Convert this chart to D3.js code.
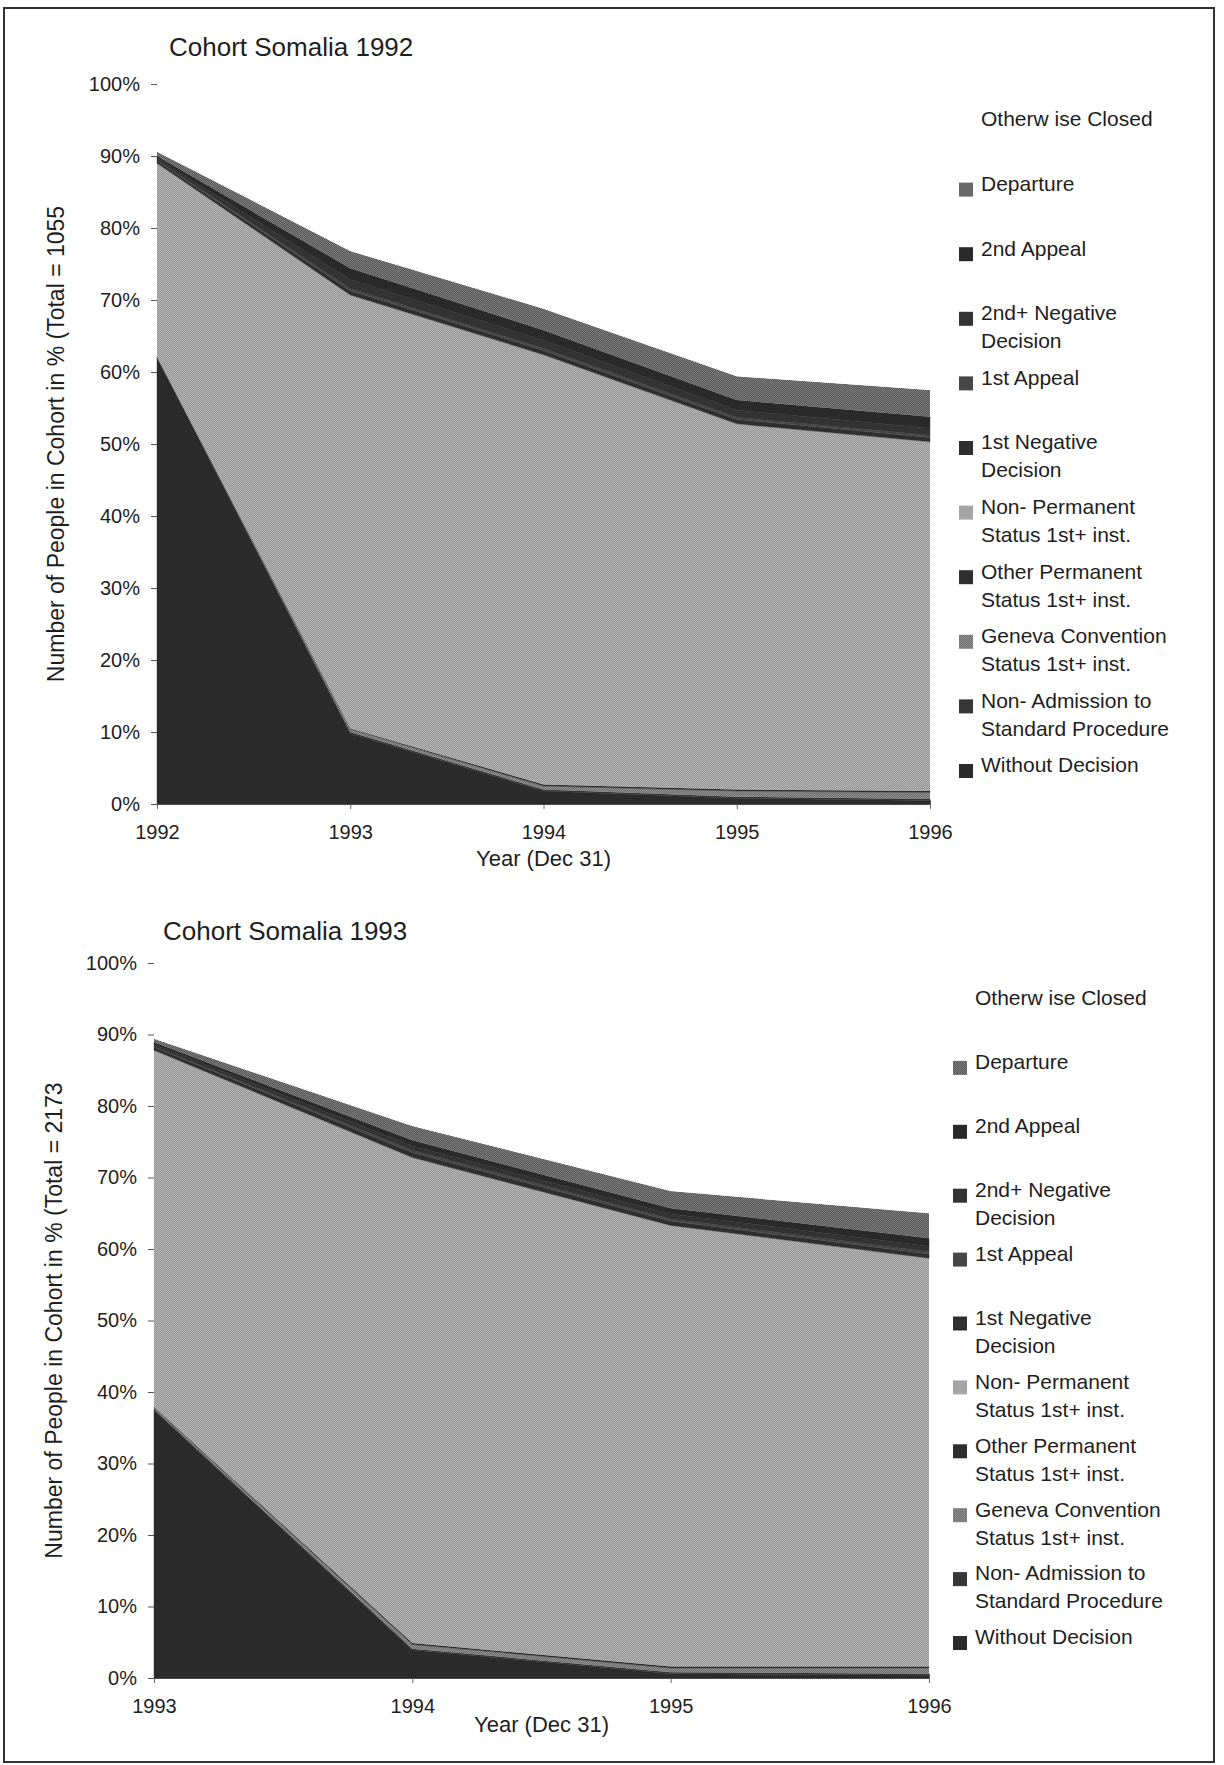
<!DOCTYPE html>
<html>
<head>
<meta charset="utf-8">
<script src="https://cdn.jsdelivr.net/npm/d3@7"></script>
<style>
  body { margin: 0; background: #fff; }
  svg text { font-family: "Liberation Sans", Arial, sans-serif; fill: #1e1e1e; }
</style>
</head>
<body>
<div id="page"></div>
<script>
// -----------------------------------------//
//                  Data
// -----------------------------------------//

// stack layers, bottom first
var layerKeys = [
  "Without Decision",
  "Non- Admission to Standard Procedure",
  "Geneva Convention Status 1st+ inst.",
  "Other Permanent Status 1st+ inst.",
  "Non- Permanent Status 1st+ inst.",
  "1st Negative Decision",
  "1st Appeal",
  "2nd+ Negative Decision",
  "2nd Appeal",
  "Departure",
  "Otherwise Closed"
];

// legend text, top entry first (same layers, reversed)
var legendLines = [
  ["Otherw ise Closed"],
  ["Departure"],
  ["2nd Appeal"],
  ["2nd+ Negative", "Decision"],
  ["1st Appeal"],
  ["1st Negative", "Decision"],
  ["Non- Permanent", "Status 1st+ inst."],
  ["Other Permanent", "Status 1st+ inst."],
  ["Geneva Convention", "Status 1st+ inst."],
  ["Non- Admission to", "Standard Procedure"],
  ["Without Decision"]
];

var yTicks = [0, 10, 20, 30, 40, 50, 60, 70, 80, 90, 100];

// cohort 1992, share in % per layer (rows follow layerKeys)
var years1992 = [1992, 1993, 1994, 1995, 1996];
var shares1992 = [
  [62, 9.8, 1.8, 0.8, 0.5],
  [0, 0.2, 0.2, 0.2, 0.2],
  [0, 0.4, 0.5, 0.8, 0.9],
  [0, 0.1, 0.2, 0.2, 0.2],
  [27, 60.2, 59.7, 50.8, 48.5],
  [0.3, 0.6, 0.6, 0.6, 0.6],
  [0.1, 0.3, 0.3, 0.3, 0.3],
  [0.3, 1.2, 1.1, 1.0, 1.0],
  [0.3, 1.6, 1.4, 1.4, 1.6],
  [0.6, 2.4, 3.0, 3.3, 3.7],
  [9.4, 23.2, 31.2, 40.6, 42.5]
];

// cohort 1993
var years1993 = [1993, 1994, 1995, 1996];
var shares1993 = [
  [37.5, 3.9, 0.6, 0.4],
  [0.1, 0.2, 0.2, 0.2],
  [0.2, 0.6, 0.6, 0.8],
  [0.1, 0.2, 0.2, 0.2],
  [49.9, 67.9, 61.7, 57.1],
  [0.4, 0.7, 0.6, 0.6],
  [0.1, 0.3, 0.3, 0.3],
  [0.3, 0.6, 0.7, 0.8],
  [0.3, 0.8, 0.8, 1.1],
  [0.5, 2.0, 2.4, 3.5],
  [10.6, 22.8, 31.9, 35.0]
];

// fills, bottom layer first
var layerFills = [
  "#2b2b2b", "#363636", "url(#texGeneva)", "#2e2e2e", "url(#texLight)",
  "#2f2f2f", "#474747", "#333333", "#2a2a2a", "url(#texMid)", "#ffffff"
];

// -----------------------------------------//
//                SVG setup
// -----------------------------------------//

var svgWidth = 1224;
var svgHeight = 1765;

var svg = d3.select("#page")
  .append("svg")
  .attr("width", svgWidth)
  .attr("height", svgHeight);

// halftone-like textures of the scanned print
var defs = svg.append("defs");
function addTexture(id, base, dot) {
  var p = defs.append("pattern")
    .attr("id", id)
    .attr("width", 2).attr("height", 2)
    .attr("patternUnits", "userSpaceOnUse");
  p.append("rect").attr("width", 2).attr("height", 2).attr("fill", base);
  p.append("rect").attr("width", 1).attr("height", 1).attr("fill", dot);
  p.append("rect").attr("x", 1).attr("y", 1).attr("width", 1).attr("height", 1).attr("fill", dot);
}
addTexture("texLight", "#949494", "#b6b6b6");
addTexture("texMid", "#565656", "#7e7e7e");
addTexture("texGeneva", "#6c6c6c", "#929292");

// page frame
svg.append("rect")
  .attr("x", 4).attr("y", 8)
  .attr("width", 1210).attr("height", 1754)
  .attr("fill", "none")
  .attr("stroke", "#333")
  .attr("stroke-width", 2);

// -----------------------------------------//
//            Chart builder
// -----------------------------------------//

function drawCohort(cfg) {

  // rows for d3.stack
  var rows = cfg.years.map(function(yr, j) {
    var row = { year: yr };
    layerKeys.forEach(function(k, i) { row[k] = cfg.shares[i][j]; });
    return row;
  });

  var xScale = d3.scaleLinear()
    .domain(d3.extent(cfg.years))
    .range([cfg.left, cfg.right]);

  var yScale = d3.scaleLinear()
    .domain([0, 100])
    .range([cfg.bottom, cfg.top]);

  var g = svg.append("g");

  // y axis
  var leftAxis = d3.axisLeft(yScale)
    .tickValues(yTicks)
    .tickFormat(function(d) { return d + "%"; })
    .tickSizeInner(6)
    .tickSizeOuter(0)
    .tickPadding(11);

  var yAxis = g.append("g")
    .attr("transform", "translate(" + cfg.left + ",0)")
    .call(leftAxis);
  yAxis.select(".domain").attr("stroke", "#555");
  yAxis.selectAll(".tick line").attr("x1", 6).attr("x2", -6).attr("stroke", "#555");
  yAxis.selectAll(".tick text")
    .style("font-size", "20px")
    .attr("fill", "#1e1e1e");

  // x axis
  var bottomAxis = d3.axisBottom(xScale)
    .tickValues(cfg.years)
    .tickFormat(d3.format("d"))
    .tickSizeInner(4)
    .tickSizeOuter(0)
    .tickPadding(17);

  var xAxis = g.append("g")
    .attr("transform", "translate(0," + cfg.bottom + ")")
    .call(bottomAxis);
  xAxis.select(".domain").attr("stroke", "#555");
  xAxis.selectAll(".tick line").attr("y1", -4).attr("y2", 5).attr("stroke", "#666");
  xAxis.selectAll(".tick text")
    .style("font-size", "20px")
    .attr("fill", "#1e1e1e");

  // stacked areas
  var stack = d3.stack().keys(layerKeys);
  var series = stack(rows);

  var area = d3.area()
    .x(function(d) { return xScale(d.data.year); })
    .y0(function(d) { return yScale(d[0]); })
    .y1(function(d) { return yScale(d[1]); });

  g.append("g").selectAll("path")
    .data(series)
    .enter()
    .append("path")
    .attr("d", area)
    .attr("fill", function(d, i) { return layerFills[i]; })
    .attr("stroke", function(d, i) { return i === layerKeys.length - 1 ? "none" : layerFills[i].indexOf("url") === 0 ? "none" : layerFills[i]; })
    .attr("stroke-width", 0.4);

  // titles
  g.append("text")
    .attr("x", cfg.titleX)
    .attr("y", cfg.titleY)
    .style("font-size", "26px")
    .text(cfg.title);

  g.append("text")
    .attr("transform", "translate(" + cfg.yTitleX + "," + ((cfg.top + cfg.bottom) / 2) + ") rotate(-90)")
    .attr("text-anchor", "middle")
    .attr("dy", "0.35em")
    .style("font-size", "23px")
    .text(cfg.yTitle);

  g.append("text")
    .attr("x", (cfg.left + cfg.right) / 2)
    .attr("y", cfg.xTitleY)
    .attr("text-anchor", "middle")
    .style("font-size", "22px")
    .text("Year (Dec 31)");

  // legend
  var legend = g.append("g").selectAll("g")
    .data(legendLines)
    .enter()
    .append("g")
    .attr("transform", function(d, k) {
      return "translate(" + cfg.legendX + "," + (cfg.legendY0 + k * cfg.legendStep) + ")";
    });

  legend.filter(function(d, k) { return k > 0; })
    .append("rect")
    .attr("x", -22)
    .attr("y", -1)
    .attr("width", 14)
    .attr("height", 14)
    .attr("fill", function(d, k) { return layerFills[layerKeys.length - 2 - k]; });

  legend.each(function(lines) {
    var item = d3.select(this);
    lines.forEach(function(line, n) {
      item.append("text")
        .attr("x", 0)
        .attr("y", n * 28)
        .attr("dy", "0.35em")
        .style("font-size", "21px")
        .text(line);
    });
  });
}

// -----------------------------------------//
//                 Draw
// -----------------------------------------//

drawCohort({
  years: years1992,
  shares: shares1992,
  left: 157, right: 930, top: 84, bottom: 804,
  title: "Cohort Somalia 1992", titleX: 169, titleY: 56,
  yTitle: "Number of People in Cohort in % (Total = 1055", yTitleX: 56,
  xTitleY: 866,
  legendX: 981, legendY0: 119, legendStep: 64.6
});

drawCohort({
  years: years1993,
  shares: shares1993,
  left: 154, right: 929, top: 963, bottom: 1678,
  title: "Cohort Somalia 1993", titleX: 163, titleY: 940,
  yTitle: "Number of People in Cohort in % (Total = 2173", yTitleX: 54,
  xTitleY: 1732,
  legendX: 975, legendY0: 998, legendStep: 63.9
});
</script>
</body>
</html>
